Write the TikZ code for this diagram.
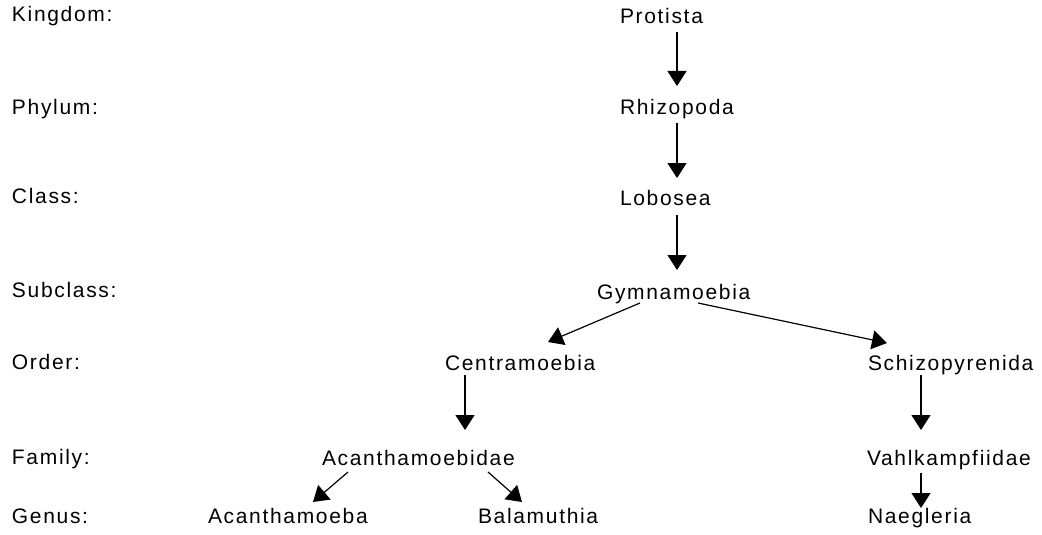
\documentclass[tikz,border=0pt]{standalone}
\usepackage{fontspec}
\newfontfamily\lblfont{Liberation Sans}[LetterSpace=8]
\usetikzlibrary{arrows.meta}
\begin{document}
\begin{tikzpicture}[x=1pt,y=-1pt,
  lbl/.style={anchor=west,inner sep=0pt,outer sep=0pt,text height=14pt,text depth=0pt,
    font=\lblfont\fontsize{21}{25}\selectfont},
  arr/.style={line width=1.2pt,-{Triangle[length=15pt,width=19pt]}}]
\useasboundingbox[fill=white] (0,0) rectangle (1042,535);
% rank labels
\node[lbl] (lk) at (12,15) {Kingdom:};
\node[lbl] (lp) at (12,107) {Phylum:};
\node[lbl] (lc) at (12,196) {Class:};
\node[lbl] (ls) at (12,290) {Subclass:};
\node[lbl] (lo) at (12,362) {Order:};
\node[lbl] (lf) at (12,457) {Family:};
\node[lbl] (lg) at (12,516) {Genus:};
% taxa
\node[lbl] (prot) at (620,17) {Protista};
\node[lbl] (rhiz) at (620,107) {Rhizopoda};
\node[lbl] (lob) at (620,198) {Lobosea};
\node[lbl] (gym) at (597,292) {Gymnamoebia};
\node[lbl] (cent) at (445,363) {Centramoebia};
\node[lbl] (schiz) at (868,363) {Schizopyrenida};
\node[lbl] (acf) at (322,458) {Acanthamoebidae};
\node[lbl] (vahl) at (867,458) {Vahlkampfiidae};
\node[lbl] (acb) at (208,516) {Acanthamoeba};
\node[lbl] (bal) at (478,516) {Balamuthia};
\node[lbl] (naeg) at (868,516) {Naegleria};
% connectors
\draw[arr] ([xshift=57pt,yshift=-8pt]prot.south west) -- ([xshift=57pt,yshift=14pt]rhiz.north west);
\draw[arr] ([xshift=57pt,yshift=-9pt]rhiz.south west) -- ([xshift=57pt,yshift=13pt]lob.north west);
\draw[arr] ([xshift=57pt,yshift=-10pt]lob.south west) -- ([xshift=80pt,yshift=15pt]gym.north west);
\draw[arr] ([xshift=43pt,yshift=-4pt]gym.south west) -- ([xshift=103pt,yshift=14pt]cent.north west);
\draw[arr] ([xshift=101pt,yshift=-4pt]gym.south west) -- ([xshift=19pt,yshift=13pt]schiz.north west);
\draw[arr] ([xshift=20pt,yshift=-5pt]cent.south west) -- ([xshift=143pt,yshift=21pt]acf.north west);
\draw[arr] ([xshift=53pt,yshift=-5pt]schiz.south west) -- ([xshift=54pt,yshift=21pt]vahl.north west);
\draw[arr] ([xshift=26pt,yshift=-7pt]acf.south west) -- ([xshift=105pt,yshift=7pt]acb.north west);
\draw[arr] ([xshift=166pt,yshift=-7pt]acf.south west) -- ([xshift=44pt,yshift=7pt]bal.north west);
\draw[arr] ([xshift=54pt,yshift=-8pt]vahl.south west) -- ([xshift=53pt,yshift=1pt]naeg.north west);
\end{tikzpicture}
\end{document}
